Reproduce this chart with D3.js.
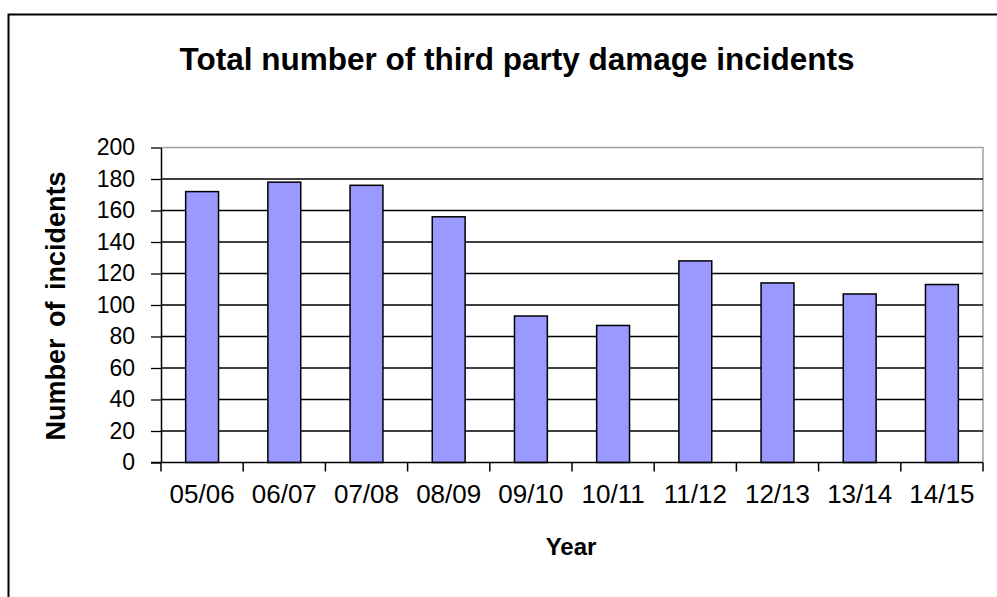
<!DOCTYPE html>
<html>
<head>
<meta charset="utf-8">
<script src="https://cdn.jsdelivr.net/npm/d3@7"></script>
<style>
  html, body { margin: 0; padding: 0; background: #fff; }
  svg { display: block; }
  text { font-family: "Liberation Sans", Arial, sans-serif; fill: #000; }
</style>
</head>
<body>
<svg id="chart" width="997" height="597"></svg>
<script>
// Third party damage incidents per financial year
const years = ["05/06", "06/07", "07/08", "08/09", "09/10", "10/11", "11/12", "12/13", "13/14", "14/15"];
const incidents = [172, 178, 176, 156, 93, 87, 128, 114, 107, 113];
const yTicks = [0, 20, 40, 60, 80, 100, 120, 140, 160, 180, 200];

const svg = d3.select("#chart");
const W = 997, H = 597;

// plot rectangle
const plotLeft = 161, plotRight = 983, plotTop = 147.5, plotBottom = 462.5;

const x = d3.scaleBand().domain(years).range([plotLeft, plotRight]).padding(0);
const y = d3.scaleLinear().domain([0, 200]).range([plotBottom, plotTop]);
const barW = x.bandwidth() * 0.4;

// outer chart frame (top and left edges visible)
svg.append("path")
  .attr("d", `M8.5,${H} L8.5,14.5 L${W},14.5`)
  .attr("fill", "none").attr("stroke", "#000").attr("stroke-width", 2);

// plot frame: grey top and right edges
svg.append("path")
  .attr("d", `M${plotLeft},${y(200)} L${plotRight},${y(200)} L${plotRight},${plotBottom}`)
  .attr("fill", "none").attr("stroke", "#a0a0a0").attr("stroke-width", 1.5);

// horizontal gridlines
svg.append("g").selectAll("line")
  .data(yTicks.filter(d => d > 0 && d < 200))
  .join("line")
  .attr("x1", plotLeft).attr("x2", plotRight)
  .attr("y1", d => y(d)).attr("y2", d => y(d))
  .attr("stroke", "#000").attr("stroke-width", 1.3);

// bars
svg.append("g").selectAll("rect")
  .data(years.map((yr, i) => ({ yr, v: incidents[i] })))
  .join("rect")
  .attr("x", d => x(d.yr) + (x.bandwidth() - barW) / 2)
  .attr("width", barW)
  .attr("y", d => y(d.v))
  .attr("height", d => plotBottom - y(d.v))
  .attr("fill", "#9999ff")
  .attr("stroke", "#000")
  .attr("stroke-width", 1.5);

// y axis
const yAxis = svg.append("g")
  .attr("transform", `translate(${plotLeft},0)`)
  .call(d3.axisLeft(y).tickValues(yTicks).tickSize(10).tickPadding(16).tickSizeOuter(0));
yAxis.select(".domain").attr("stroke", "#000").attr("stroke-width", 1.5);
yAxis.selectAll(".tick line").attr("stroke", "#000").attr("stroke-width", 1.3);
yAxis.selectAll(".tick text")
  .attr("font-family", "Liberation Sans, Arial, sans-serif")
  .attr("font-size", 23).attr("fill", "#222");

// x axis: ticks sit on category boundaries
const xAxisG = svg.append("g").attr("transform", `translate(0,${plotBottom})`);
xAxisG.append("line")
  .attr("x1", plotLeft - 10).attr("x2", plotRight)
  .attr("stroke", "#000").attr("stroke-width", 1.5);
const bounds = years.map(d => x(d)).concat([plotRight]);
xAxisG.selectAll("line.tick")
  .data(bounds)
  .join("line").attr("class", "tick")
  .attr("x1", d => d).attr("x2", d => d)
  .attr("y1", 0).attr("y2", 9)
  .attr("stroke", "#000").attr("stroke-width", 1.5);
xAxisG.selectAll("text")
  .data(years)
  .join("text")
  .attr("x", d => x(d) + x.bandwidth() / 2)
  .attr("y", 40)
  .attr("text-anchor", "middle")
  .attr("font-size", 26)
  .attr("fill", "#222")
  .text(d => d);

// title
svg.append("text")
  .attr("x", 517).attr("y", 70)
  .attr("text-anchor", "middle")
  .attr("font-size", 31.5).attr("font-weight", "bold")
  .text("Total number of third party damage incidents");

// axis titles
svg.append("text")
  .attr("x", 571).attr("y", 555)
  .attr("text-anchor", "middle")
  .attr("font-size", 24).attr("font-weight", "bold")
  .text("Year");

svg.append("text")
  .attr("transform", `translate(65,${(plotTop + plotBottom) / 2 + 1}) rotate(-90)`)
  .attr("text-anchor", "middle")
  .attr("font-size", 27).attr("font-weight", "bold")
  .attr("word-spacing", 4)
  .text("Number of incidents");
</script>
</body>
</html>
